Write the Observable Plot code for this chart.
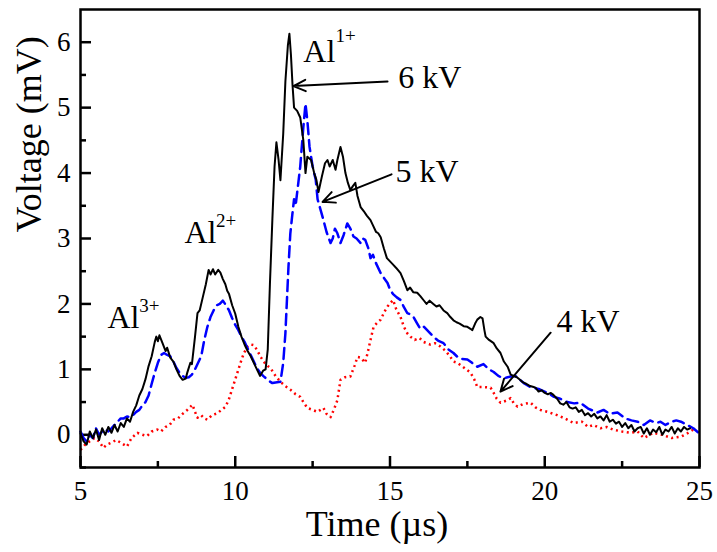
<!DOCTYPE html>
<html><head><meta charset="utf-8">
<script src="https://cdn.jsdelivr.net/npm/d3@7"></script>
<script src="https://cdn.jsdelivr.net/npm/@observablehq/plot@0.6"></script>
<style>body{margin:0;background:#fff}</style>
</head><body><div id="chart"></div>
<script>
// 6 kV (black, solid): [time µs, voltage mV]
const kv6 = [[5.0,0.02],[5.1,-0.1],[5.2,-0.15],[5.3,0.05],[5.4,-0.05],[5.5,0.08],[5.6,-0.08],[5.7,0.1],[5.8,0.0],[5.9,0.12],[6.0,0.03],[6.1,0.15],[6.2,0.05],[6.3,0.18],[6.4,0.12],[6.5,0.25],[6.6,0.2],[6.7,0.35],[6.8,0.45],[6.9,0.6],[7.0,0.7],[7.1,0.85],[7.2,1.05],[7.3,1.2],[7.4,1.42],[7.45,1.5],[7.5,1.43],[7.55,1.52],[7.65,1.4],[7.75,1.28],[7.8,1.33],[7.9,1.18],[8.0,1.12],[8.1,1.0],[8.2,0.9],[8.3,0.84],[8.4,0.86],[8.45,0.95],[8.55,1.1],[8.6,1.08],[8.7,1.5],[8.78,1.86],[8.85,1.9],[8.95,2.1],[9.05,2.3],[9.14,2.52],[9.2,2.45],[9.28,2.53],[9.35,2.45],[9.45,2.52],[9.52,2.48],[9.6,2.38],[9.68,2.3],[9.74,2.2],[9.8,2.15],[9.9,1.98],[10.0,1.85],[10.1,1.65],[10.2,1.5],[10.3,1.38],[10.4,1.28],[10.5,1.2],[10.6,1.1],[10.7,1.0],[10.8,0.9],[10.9,0.98],[10.98,1.0],[11.05,1.3],[11.12,2.3],[11.2,3.3],[11.27,4.1],[11.33,4.47],[11.4,4.2],[11.46,3.89],[11.55,4.6],[11.62,5.4],[11.7,5.95],[11.75,6.13],[11.8,5.8],[11.85,5.35],[11.9,5.0],[12.0,4.95],[12.1,4.85],[12.2,4.5],[12.27,4.0],[12.33,4.25],[12.45,4.2],[12.55,4.0],[12.62,3.9],[12.69,3.71],[12.8,3.95],[12.9,4.15],[12.98,4.2],[13.05,4.1],[13.15,4.2],[13.24,4.05],[13.3,4.2],[13.4,4.4],[13.48,4.25],[13.56,4.0],[13.64,3.85],[13.72,3.74],[13.8,3.8],[13.88,3.85],[13.95,3.65],[14.05,3.48],[14.15,3.42],[14.25,3.35],[14.37,3.28],[14.45,3.2],[14.55,3.1],[14.62,3.08],[14.7,3.02],[14.8,2.85],[14.9,2.7],[15.0,2.65],[15.1,2.6],[15.2,2.55],[15.34,2.47],[15.45,2.35],[15.56,2.21],[15.65,2.25],[15.75,2.18],[15.88,2.17],[15.98,2.12],[16.08,2.06],[16.18,2.0],[16.28,2.05],[16.4,2.0],[16.5,1.96],[16.6,1.98],[16.73,1.9],[16.85,1.86],[16.95,1.8],[17.05,1.75],[17.15,1.72],[17.25,1.7],[17.38,1.66],[17.5,1.65],[17.6,1.62],[17.66,1.6],[17.75,1.7],[17.82,1.76],[17.92,1.8],[17.99,1.78],[18.05,1.6],[18.09,1.5],[18.2,1.45],[18.35,1.4],[18.45,1.32],[18.57,1.25],[18.68,1.12],[18.8,1.04],[18.9,0.92],[19.0,0.9],[19.1,0.88],[19.2,0.84],[19.3,0.8],[19.4,0.78],[19.5,0.75],[19.64,0.73],[19.7,0.72],[19.8,0.66],[19.9,0.68],[20.0,0.64],[20.1,0.62],[20.2,0.64],[20.28,0.61],[20.4,0.55],[20.5,0.48],[20.6,0.46],[20.7,0.5],[20.8,0.42],[20.9,0.4],[21.0,0.42],[21.1,0.35],[21.2,0.38],[21.3,0.3],[21.4,0.33],[21.5,0.28],[21.6,0.32],[21.7,0.25],[21.8,0.28],[21.9,0.22],[22.0,0.3],[22.1,0.2],[22.2,0.23],[22.3,0.17],[22.4,0.2],[22.5,0.12],[22.6,0.18],[22.7,0.1],[22.8,0.15],[22.9,0.05],[23.0,0.1],[23.1,0.12],[23.2,0.02],[23.3,0.1],[23.4,0.0],[23.5,0.08],[23.6,0.04],[23.7,0.12],[23.8,0.0],[23.9,0.08],[24.0,0.05],[24.1,0.12],[24.2,0.02],[24.3,0.1],[24.4,0.05],[24.5,0.12],[24.6,0.08],[24.7,0.1]];

// 5 kV (blue, dashed)
const kv5 = [[5.0,0.05],[5.1,-0.05],[5.2,-0.1],[5.3,0.0],[5.4,-0.05],[5.5,0.1],[5.6,0.0],[5.7,0.05],[5.8,0.08],[5.9,0.05],[6.0,0.1],[6.1,0.15],[6.2,0.2],[6.3,0.25],[6.4,0.25],[6.5,0.28],[6.6,0.27],[6.7,0.3],[6.8,0.35],[6.9,0.38],[7.0,0.45],[7.1,0.5],[7.2,0.6],[7.3,0.78],[7.4,0.95],[7.5,1.1],[7.6,1.22],[7.7,1.25],[7.8,1.22],[7.9,1.2],[8.0,1.12],[8.1,1.02],[8.2,0.95],[8.3,0.9],[8.4,0.87],[8.5,0.88],[8.6,0.92],[8.7,1.0],[8.8,1.1],[8.9,1.2],[9.0,1.45],[9.1,1.65],[9.2,1.8],[9.3,1.9],[9.4,1.98],[9.5,2.0],[9.6,2.05],[9.7,1.98],[9.8,1.9],[9.9,1.78],[10.0,1.68],[10.1,1.6],[10.2,1.5],[10.3,1.42],[10.4,1.32],[10.5,1.22],[10.6,1.12],[10.7,1.02],[10.8,0.95],[10.9,0.9],[11.0,0.86],[11.1,0.82],[11.2,0.79],[11.3,0.8],[11.46,0.81],[11.55,1.1],[11.62,1.55],[11.72,2.57],[11.78,3.08],[11.85,3.39],[11.9,3.6],[11.95,3.5],[12.0,3.7],[12.1,4.1],[12.2,4.7],[12.27,5.06],[12.33,4.8],[12.4,4.4],[12.5,4.1],[12.6,3.9],[12.66,3.6],[12.75,3.45],[12.85,3.28],[12.95,3.1],[13.08,2.93],[13.15,3.0],[13.22,3.15],[13.3,3.08],[13.4,2.93],[13.5,3.05],[13.62,3.23],[13.72,3.15],[13.82,3.03],[13.92,3.0],[14.05,2.93],[14.12,3.0],[14.2,2.98],[14.3,2.85],[14.37,2.7],[14.45,2.75],[14.55,2.62],[14.7,2.47],[14.8,2.4],[14.92,2.32],[15.0,2.22],[15.1,2.15],[15.22,2.1],[15.34,2.06],[15.45,1.95],[15.56,1.86],[15.66,1.84],[15.76,1.8],[15.88,1.7],[15.98,1.62],[16.1,1.65],[16.2,1.6],[16.3,1.55],[16.4,1.5],[16.55,1.44],[16.73,1.4],[16.9,1.3],[17.05,1.25],[17.18,1.19],[17.3,1.16],[17.5,1.15],[17.65,1.1],[17.82,1.04],[18.02,1.08],[18.2,1.0],[18.35,0.96],[18.5,0.9],[18.67,0.86],[18.8,0.88],[18.9,0.89],[19.05,0.9],[19.2,0.84],[19.35,0.78],[19.54,0.73],[19.8,0.7],[20.09,0.64],[20.3,0.58],[20.5,0.55],[20.73,0.5],[20.95,0.48],[21.15,0.49],[21.4,0.4],[21.7,0.34],[21.9,0.38],[22.1,0.32],[22.35,0.34],[22.6,0.25],[22.8,0.22],[23.0,0.2],[23.2,0.15],[23.4,0.22],[23.6,0.18],[23.74,0.2],[23.9,0.15],[24.1,0.2],[24.25,0.22],[24.4,0.2],[24.6,0.15],[24.8,0.1],[24.97,0.03]];

// 4 kV (red, dotted)
const kv4 = [[5.0,-0.23],[5.15,-0.15],[5.3,-0.1],[5.45,-0.05],[5.6,-0.1],[5.74,-0.2],[5.85,-0.15],[6.0,-0.12],[6.15,-0.08],[6.3,-0.12],[6.5,-0.18],[6.65,-0.05],[6.84,0.03],[7.0,0.0],[7.15,-0.02],[7.3,0.05],[7.48,0.08],[7.6,0.05],[7.75,0.12],[7.88,0.15],[8.0,0.23],[8.15,0.25],[8.3,0.32],[8.45,0.38],[8.62,0.46],[8.7,0.35],[8.78,0.26],[8.9,0.3],[9.0,0.25],[9.1,0.23],[9.25,0.3],[9.43,0.33],[9.55,0.38],[9.69,0.43],[9.8,0.55],[9.94,0.76],[10.05,0.92],[10.17,1.1],[10.28,1.25],[10.4,1.35],[10.5,1.38],[10.6,1.37],[10.7,1.3],[10.82,1.19],[10.95,1.1],[11.05,1.05],[11.14,1.02],[11.3,0.9],[11.46,0.81],[11.6,0.75],[11.78,0.69],[11.95,0.62],[12.1,0.58],[12.2,0.5],[12.33,0.41],[12.5,0.38],[12.66,0.35],[12.75,0.38],[12.85,0.41],[12.95,0.32],[13.08,0.27],[13.2,0.4],[13.3,0.53],[13.4,0.84],[13.55,0.88],[13.72,0.89],[13.85,1.05],[13.95,1.19],[14.05,1.18],[14.2,1.1],[14.3,1.3],[14.37,1.45],[14.47,1.65],[14.6,1.72],[14.7,1.76],[14.82,1.88],[14.92,1.96],[15.02,2.02],[15.1,2.06],[15.2,1.92],[15.34,1.8],[15.45,1.65],[15.56,1.55],[15.66,1.5],[15.8,1.45],[15.95,1.48],[16.08,1.42],[16.3,1.38],[16.45,1.4],[16.63,1.35],[16.8,1.28],[16.95,1.19],[17.05,1.12],[17.18,1.1],[17.35,1.04],[17.6,0.95],[17.72,0.85],[17.82,0.73],[18.02,0.73],[18.25,0.72],[18.35,0.64],[18.45,0.55],[18.57,0.49],[18.75,0.52],[18.9,0.56],[19.0,0.48],[19.12,0.43],[19.3,0.47],[19.54,0.49],[19.7,0.42],[19.86,0.38],[20.1,0.35],[20.4,0.3],[20.65,0.25],[20.93,0.18],[21.2,0.2],[21.4,0.12],[21.57,0.15],[21.8,0.1],[22.0,0.12],[22.2,0.08],[22.5,0.05],[22.77,0.03],[23.0,0.05],[23.2,-0.05],[23.5,0.03],[23.8,0.0],[24.1,-0.05],[24.4,-0.03],[24.6,0.02],[24.8,0.08]];

const xMajor = [5, 10, 15, 20, 25];
const xMinor = [7.5, 12.5, 17.5, 22.5];
const yMajor = [0, 1, 2, 3, 4, 5, 6];
const yMinor = [-0.5, 0.5, 1.5, 2.5, 3.5, 4.5, 5.5];

// annotation labels (data coords)
const ionLabels = [
  {x: 5.87, y: 1.63, base: "Al", sup: "3+", sx: 6.9, sy: 1.88},
  {x: 8.36, y: 2.93, base: "Al", sup: "2+", sx: 9.38, sy: 3.18},
  {x: 12.2, y: 5.69, base: "Al", sup: "1+", sx: 13.24, sy: 6.0}
];
const kvLabels = [
  {x: 15.27, y: 5.3, text: "6 kV"},
  {x: 15.18, y: 3.86, text: "5 kV"},
  {x: 20.38, y: 1.57, text: "4 kV"}
];
const arrows = [
  {x1: 14.92, y1: 5.40, x2: 11.88, y2: 5.33},
  {x1: 15.05, y1: 3.98, x2: 12.82, y2: 3.56},
  {x1: 20.19, y1: 1.56, x2: 18.57, y2: 0.66}
];

const toRows = (arr) => arr.map(([t, v]) => ({t, v}));

const serif = "'Liberation Serif', 'Times New Roman', Times, serif";
// frame is 458 px tall and 619 px wide; insets leave short inward ticks
const chart = Plot.plot({
  width: 717, height: 552,
  marginLeft: 80, marginRight: 18, marginTop: 9, marginBottom: 85,
  style: {fontFamily: serif, background: "#fff", color: "#000"},
  x: {domain: [5, 25]},
  y: {domain: [-0.5, 6.5]},
  marks: [
    Plot.ruleX(xMajor, {x: d => d, insetTop: 447, stroke: "#000", strokeWidth: 2.5}),
    Plot.ruleX(xMinor, {x: d => d, insetTop: 452, stroke: "#000", strokeWidth: 2.5}),
    Plot.ruleY(yMajor, {y: d => d, insetRight: 608, stroke: "#000", strokeWidth: 2.5}),
    Plot.ruleY(yMinor, {y: d => d, insetRight: 613, stroke: "#000", strokeWidth: 2.5}),
    Plot.axisX(xMajor, {tickSize: 0, tickPadding: 13, fontSize: 27, fontFamily: serif, tickFormat: d => String(d), label: null}),
    Plot.axisY(yMajor, {tickSize: 0, tickPadding: 10, fontSize: 27, fontFamily: serif, tickFormat: d => String(d), label: null}),
    Plot.text(["Time (µs)"], {frameAnchor: "bottom", dy: 68, dx: -13, lineAnchor: "bottom", fontSize: 36, fontFamily: serif}),
    Plot.text(["Voltage (mV)"], {frameAnchor: "left", dx: -51, dy: -6, rotate: -90, lineAnchor: "middle", fontSize: 36, fontFamily: serif}),
    Plot.line(toRows(kv4), {x: "t", y: "v", stroke: "#ff0000", strokeWidth: 2.5, strokeDasharray: "2,3.5", strokeLinecap: "butt"}),
    Plot.line(toRows(kv5), {x: "t", y: "v", stroke: "#0000ff", strokeWidth: 2.5, strokeDasharray: "11,6"}),
    Plot.line(toRows(kv6), {x: "t", y: "v", stroke: "#000", strokeWidth: 2}),
    Plot.arrow(arrows, {x1: "x1", y1: "y1", x2: "x2", y2: "y2", stroke: "#000", strokeWidth: 2, headLength: 10, headAngle: 50}),
    Plot.text(ionLabels, {x: "x", y: "y", text: "base", textAnchor: "start", lineAnchor: "bottom", fontSize: 32, fontFamily: serif}),
    Plot.text(ionLabels, {x: "sx", y: "sy", text: "sup", textAnchor: "start", lineAnchor: "bottom", fontSize: 19, fontFamily: serif}),
    Plot.text(kvLabels, {x: "x", y: "y", text: "text", textAnchor: "start", lineAnchor: "bottom", fontSize: 32, fontFamily: serif}),
    Plot.frame({stroke: "#000", strokeWidth: 2.5})
  ]
});
document.getElementById("chart").appendChild(chart);
</script>
</body></html>
